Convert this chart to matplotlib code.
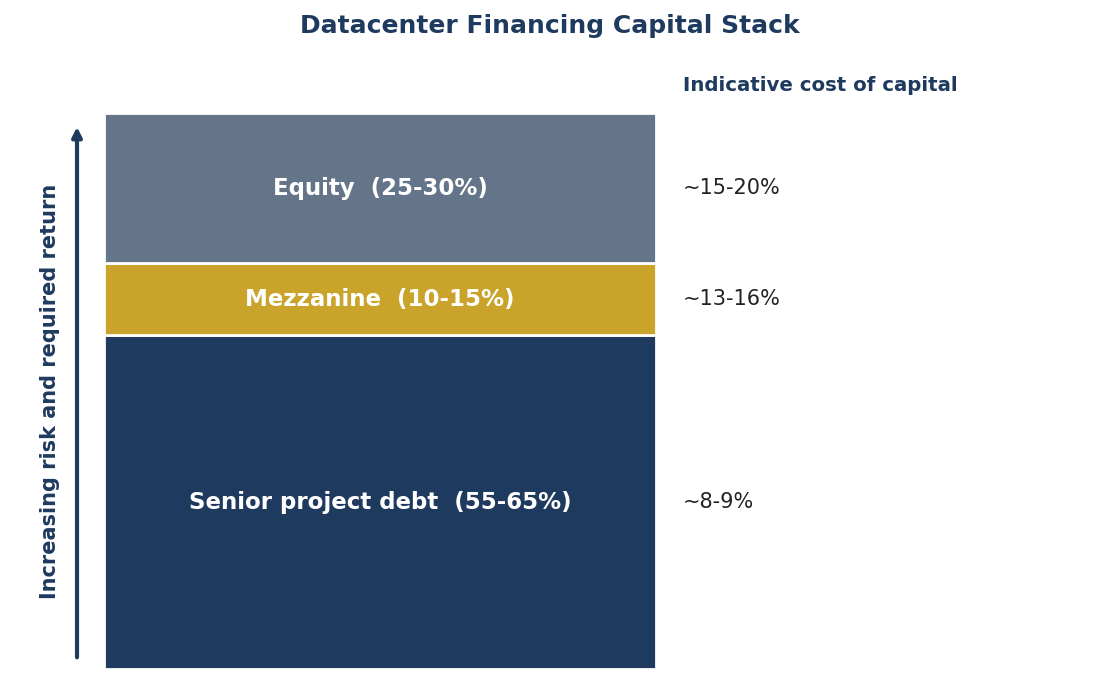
import matplotlib
matplotlib.use("Agg")
import matplotlib.pyplot as plt

segments = ["Senior project debt", "Mezzanine", "Equity"]
ranges = ["55-65%", "10-15%", "25-30%"]
shares = [60, 13, 27]
costs = ["~8-9%", "~13-16%", "~15-20%"]
colors = ["#1f3a5f", "#c9a32a", "#647589"]
navy = "#1f3a5f"

fig = plt.figure(figsize=(10.99, 6.85), dpi=100)
ax = fig.add_axes([104/1099, 16/685, 552/1099, 556/685])

bottom = 0
for name, rng, val, cost, col in zip(segments, ranges, shares, costs, colors):
    ax.bar(0, val, bottom=bottom, width=1.0, color=col, edgecolor="white", linewidth=2)
    mid = bottom + val / 2
    ax.text(0, mid, f"{name}  ({rng})", ha="center", va="center", color="white",
            fontsize=16.5, fontweight="bold")
    ax.text(1.049, mid, cost, transform=ax.get_yaxis_transform(), ha="left", va="center",
            color="#222222", fontsize=15)
    bottom += val

ax.set_xlim(-0.5, 0.5)
ax.set_ylim(0, 100)
ax.axis("off")

ax.text(1.049, 1.05, "Indicative cost of capital", transform=ax.transAxes, ha="left",
        va="center", color=navy, fontsize=14.2, fontweight="bold")

ax.annotate("", xy=(-0.0489, 0.975), xytext=(-0.0489, 0.021), xycoords="axes fraction",
            textcoords="axes fraction", annotation_clip=False,
            arrowprops=dict(arrowstyle="-|>", color=navy, lw=3, mutation_scale=14,
                            shrinkA=0, shrinkB=0))
ax.text(-0.098, 0.5, "Increasing risk and required return", transform=ax.transAxes,
        rotation=90, ha="center", va="center", color=navy, fontsize=15, fontweight="bold")

fig.text(0.5, 1 - 26/685, "Datacenter Financing Capital Stack", ha="center", va="center",
         color=navy, fontsize=18, fontweight="bold")

fig.savefig("out.png", dpi=100)
